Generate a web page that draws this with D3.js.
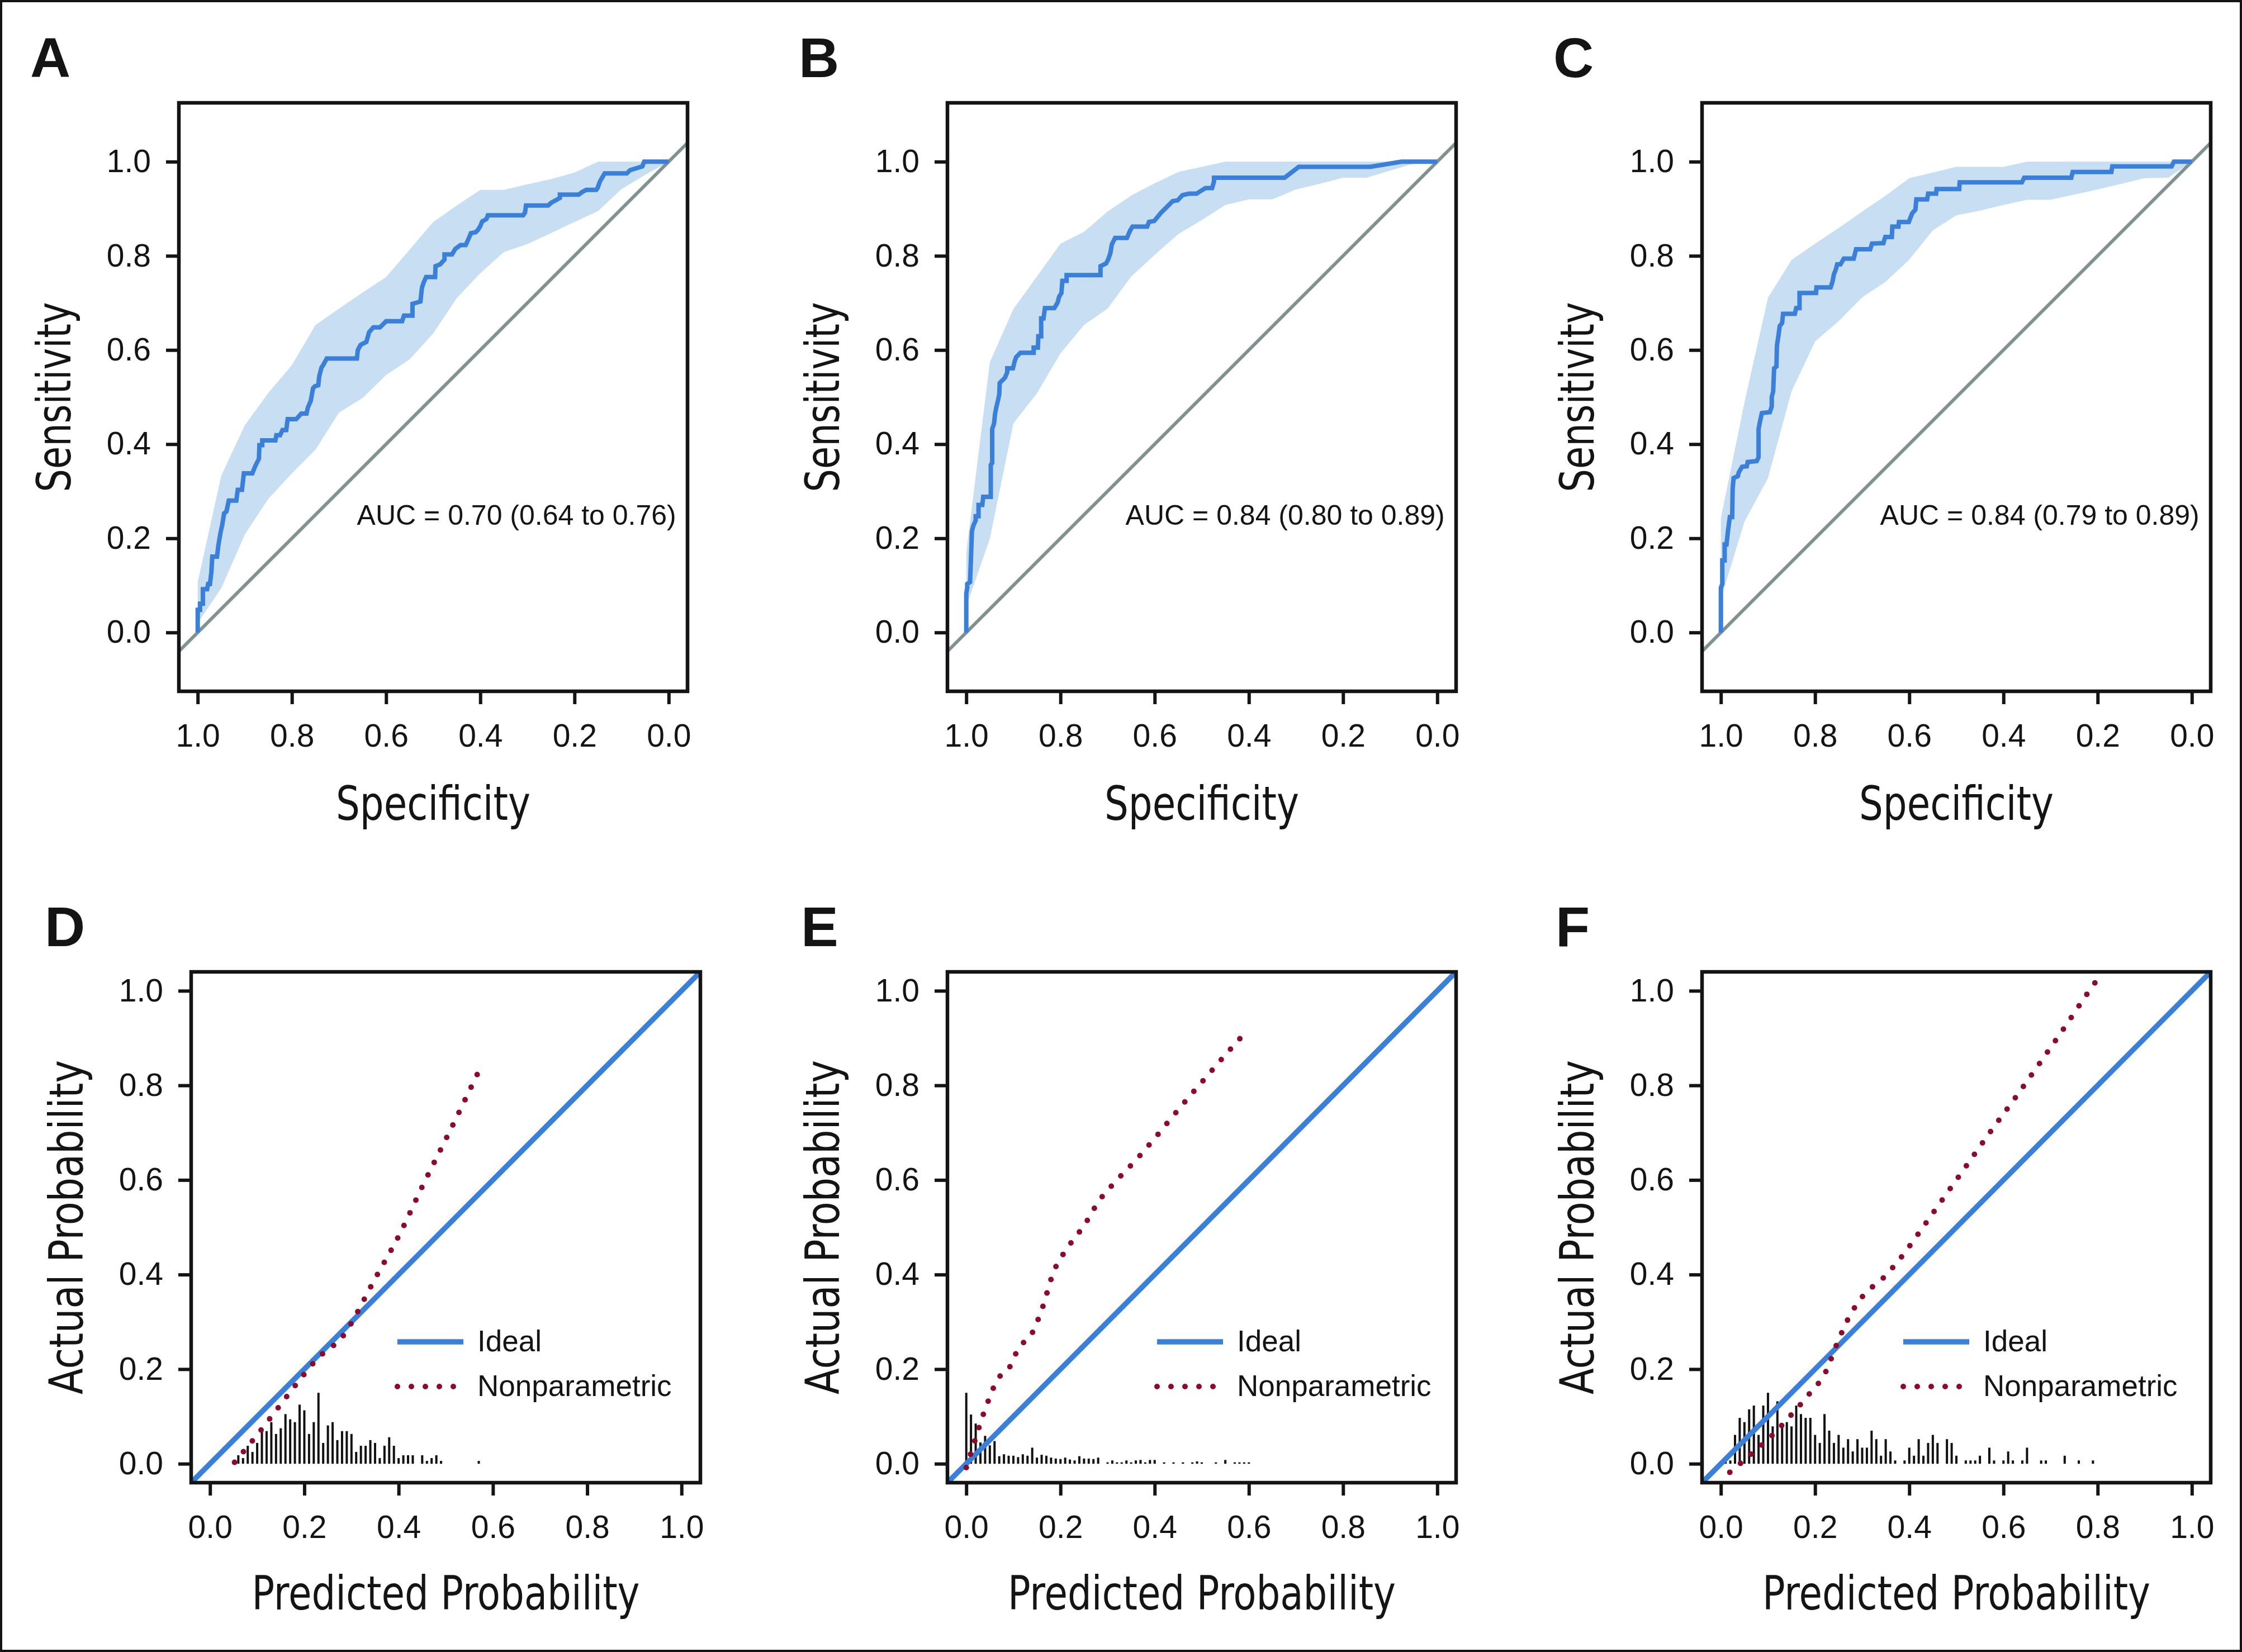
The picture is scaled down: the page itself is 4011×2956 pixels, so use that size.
<!DOCTYPE html>
<html><head><meta charset="utf-8">
<script src="https://cdn.jsdelivr.net/npm/d3@7"></script>
<style>html,body{margin:0;padding:0;background:#fff;} svg{display:block;}</style>
</head><body>
<svg id="chart" width="4011" height="2956"></svg>
<script>
// ---------------- DATA ----------------
const rocPanelLetters = ["A", "B", "C"];
const calPanelLetters = ["D", "E", "F"];
const specTicks = [1.0, 0.8, 0.6, 0.4, 0.2, 0.0];
const sensTicks = [0.0, 0.2, 0.4, 0.6, 0.8, 1.0];
const probTicks = [0.0, 0.2, 0.4, 0.6, 0.8, 1.0];
const aucLabels = ["AUC = 0.70 (0.64 to 0.76)", "AUC = 0.84 (0.80 to 0.89)", "AUC = 0.84 (0.79 to 0.89)"];
const legendLabels = ["Ideal", "Nonparametric"];
const rocTitles = ["Specificity", "Sensitivity"];
const calTitles = ["Predicted Probability", "Actual Probability"];

// ROC curves: [specificity, sensitivity]
const rocA = [[1.000,0],[1.000,0.048],[0.995,0.048],[0.995,0.061],[0.989,0.061],[0.989,0.092],[0.980,0.092],[0.978,0.103],[0.974,0.103],[0.971,0.128],[0.969,0.161],[0.959,0.161],[0.956,0.186],[0.951,0.215],[0.948,0.228],[0.944,0.253],[0.939,0.257],[0.934,0.280],[0.918,0.280],[0.915,0.303],[0.906,0.303],[0.902,0.338],[0.884,0.338],[0.878,0.353],[0.870,0.369],[0.869,0.398],[0.863,0.398],[0.863,0.408],[0.835,0.408],[0.833,0.419],[0.825,0.419],[0.820,0.430],[0.812,0.430],[0.809,0.453],[0.791,0.453],[0.780,0.465],[0.769,0.465],[0.766,0.478],[0.760,0.492],[0.758,0.503],[0.755,0.519],[0.751,0.523],[0.744,0.525],[0.742,0.544],[0.737,0.563],[0.733,0.569],[0.726,0.582],[0.662,0.582],[0.660,0.600],[0.654,0.611],[0.642,0.617],[0.636,0.638],[0.627,0.648],[0.613,0.648],[0.600,0.661],[0.566,0.661],[0.562,0.673],[0.544,0.673],[0.544,0.698],[0.527,0.703],[0.524,0.732],[0.520,0.744],[0.515,0.755],[0.496,0.755],[0.495,0.778],[0.485,0.782],[0.476,0.792],[0.476,0.803],[0.460,0.803],[0.453,0.815],[0.442,0.823],[0.431,0.823],[0.425,0.836],[0.420,0.848],[0.410,0.850],[0.405,0.855],[0.400,0.863],[0.396,0.873],[0.387,0.878],[0.384,0.886],[0.309,0.886],[0.305,0.892],[0.303,0.907],[0.256,0.907],[0.249,0.913],[0.238,0.919],[0.231,0.923],[0.231,0.930],[0.191,0.930],[0.183,0.936],[0.175,0.940],[0.154,0.940],[0.151,0.944],[0.146,0.958],[0.136,0.975],[0.089,0.975],[0.082,0.982],[0.056,0.990],[0.052,1.0],[0.000,1.0]];
const rocB = [[1.0,0],[1.0,0.083],[0.998,0.095],[0.998,0.103],[0.992,0.107],[0.990,0.159],[0.988,0.215],[0.985,0.227],[0.980,0.238],[0.980,0.247],[0.974,0.247],[0.974,0.271],[0.966,0.271],[0.964,0.288],[0.948,0.288],[0.948,0.356],[0.945,0.360],[0.945,0.432],[0.941,0.444],[0.939,0.464],[0.936,0.479],[0.932,0.496],[0.930,0.506],[0.929,0.530],[0.922,0.537],[0.918,0.541],[0.913,0.553],[0.913,0.561],[0.901,0.561],[0.897,0.577],[0.894,0.585],[0.885,0.594],[0.857,0.594],[0.857,0.605],[0.848,0.605],[0.847,0.629],[0.841,0.629],[0.841,0.667],[0.836,0.667],[0.833,0.689],[0.813,0.689],[0.806,0.701],[0.803,0.713],[0.798,0.721],[0.796,0.747],[0.787,0.747],[0.787,0.759],[0.715,0.759],[0.715,0.778],[0.703,0.784],[0.698,0.794],[0.694,0.806],[0.691,0.824],[0.684,0.838],[0.659,0.838],[0.652,0.854],[0.647,0.862],[0.616,0.862],[0.612,0.872],[0.601,0.874],[0.586,0.892],[0.562,0.916],[0.551,0.918],[0.541,0.929],[0.527,0.932],[0.511,0.932],[0.502,0.938],[0.492,0.944],[0.478,0.944],[0.474,0.958],[0.474,0.966],[0.324,0.966],[0.294,0.989],[0.142,0.989],[0.076,1.0],[0,1.0]];
const rocC = [[1.0,0],[1.0,0.095],[0.997,0.103],[0.997,0.153],[0.992,0.153],[0.992,0.187],[0.988,0.187],[0.985,0.215],[0.981,0.245],[0.976,0.245],[0.975,0.305],[0.973,0.328],[0.964,0.332],[0.962,0.340],[0.955,0.352],[0.945,0.353],[0.943,0.362],[0.924,0.364],[0.920,0.372],[0.920,0.432],[0.917,0.448],[0.913,0.466],[0.896,0.468],[0.892,0.480],[0.892,0.500],[0.889,0.512],[0.887,0.561],[0.882,0.565],[0.881,0.609],[0.878,0.629],[0.875,0.651],[0.870,0.657],[0.868,0.677],[0.843,0.677],[0.840,0.689],[0.833,0.689],[0.833,0.721],[0.798,0.721],[0.797,0.733],[0.767,0.733],[0.763,0.745],[0.760,0.761],[0.756,0.771],[0.753,0.782],[0.746,0.782],[0.739,0.794],[0.718,0.794],[0.713,0.814],[0.683,0.814],[0.679,0.826],[0.655,0.827],[0.651,0.840],[0.637,0.840],[0.636,0.862],[0.623,0.862],[0.622,0.872],[0.601,0.872],[0.594,0.890],[0.587,0.898],[0.585,0.920],[0.562,0.920],[0.560,0.932],[0.543,0.932],[0.542,0.942],[0.494,0.942],[0.493,0.956],[0.361,0.956],[0.356,0.966],[0.256,0.966],[0.253,0.978],[0.171,0.978],[0.169,0.990],[0.043,0.990],[0.038,1.0],[0,1.0]];

// Confidence bands of sensitivity at fixed specificities
const ciSpec = [1.00,0.95,0.90,0.85,0.80,0.75,0.70,0.65,0.60,0.55,0.50,0.45,0.40,0.35,0.30,0.25,0.20,0.15,0.10,0.05,0.00];
const ciUpperA = [0.107,0.333,0.440,0.509,0.568,0.653,0.688,0.722,0.755,0.813,0.872,0.907,0.940,0.940,0.952,0.963,0.977,1.0,1.0,1.0,1.0];
const ciLowerA = [0.020,0.094,0.208,0.284,0.338,0.388,0.467,0.498,0.547,0.580,0.635,0.710,0.763,0.808,0.825,0.848,0.872,0.895,0.942,0.972,1.0];
const ciUpperB = [0.171,0.574,0.687,0.756,0.826,0.851,0.894,0.928,0.954,0.978,0.989,1.0,1.0,1.0,1.0,1.0,1.0,1.0,1.0,1.0,1.0];
const ciLowerB = [0.055,0.199,0.444,0.508,0.593,0.653,0.688,0.756,0.802,0.846,0.876,0.908,0.920,0.920,0.941,0.953,0.966,0.966,0.981,0.996,1.0];
const ciUpperC = [0.243,0.488,0.711,0.791,0.826,0.859,0.894,0.928,0.965,0.977,0.989,0.989,0.989,1.0,1.0,1.0,1.0,1.0,1.0,1.0,1.0];
const ciLowerC = [0.071,0.235,0.328,0.512,0.618,0.661,0.712,0.745,0.792,0.854,0.886,0.896,0.908,0.919,0.919,0.930,0.941,0.953,0.965,0.966,1.0];

// Nonparametric calibration curves: [predicted, actual]
const npD = [[0.052,0.003],[0.057,0.009],[0.096,0.056],[0.132,0.102],[0.186,0.172],[0.224,0.218],[0.246,0.239],[0.268,0.255],[0.288,0.278],[0.303,0.303],[0.345,0.382],[0.402,0.485],[0.453,0.592],[0.506,0.698],[0.571,0.832]];
const npE = [[0.000,-0.008],[0.018,0.048],[0.036,0.104],[0.046,0.131],[0.057,0.159],[0.068,0.181],[0.087,0.196],[0.114,0.249],[0.135,0.268],[0.159,0.322],[0.186,0.407],[0.216,0.458],[0.251,0.505],[0.282,0.556],[0.320,0.600],[0.361,0.643],[0.400,0.688],[0.438,0.734],[0.476,0.779],[0.515,0.824],[0.554,0.869],[0.593,0.912]];
const npF = [[0.019,-0.018],[0.064,0.020],[0.109,0.060],[0.149,0.103],[0.188,0.148],[0.223,0.195],[0.245,0.250],[0.269,0.304],[0.301,0.354],[0.345,0.393],[0.384,0.438],[0.419,0.486],[0.470,0.558],[0.522,0.631],[0.573,0.703],[0.626,0.775],[0.677,0.847],[0.728,0.920],[0.778,0.994],[0.795,1.018]];

// Distribution of predicted risk (spike histogram): [predicted, spike height]
const spikesD = [[0.05,0.006],[0.06,0.018],[0.07,0.012],[0.08,0.038],[0.09,0.025],[0.10,0.044],[0.11,0.069],[0.12,0.069],[0.13,0.088],[0.14,0.063],[0.15,0.075],[0.16,0.105],[0.17,0.094],[0.18,0.088],[0.19,0.125],[0.20,0.113],[0.21,0.063],[0.22,0.088],[0.23,0.150],[0.24,0.044],[0.25,0.081],[0.26,0.088],[0.27,0.050],[0.28,0.069],[0.29,0.069],[0.30,0.063],[0.31,0.025],[0.32,0.038],[0.33,0.038],[0.34,0.050],[0.35,0.044],[0.36,0.012],[0.37,0.038],[0.38,0.056],[0.39,0.038],[0.40,0.012],[0.41,0.018],[0.42,0.018],[0.43,0.018],[0.45,0.018],[0.46,0.006],[0.47,0.012],[0.48,0.018],[0.49,0.006],[0.57,0.006]];
const spikesE = [[0.00,0.150],[0.01,0.104],[0.02,0.085],[0.03,0.045],[0.04,0.059],[0.05,0.039],[0.06,0.048],[0.07,0.016],[0.08,0.020],[0.09,0.017],[0.10,0.017],[0.11,0.014],[0.12,0.020],[0.13,0.017],[0.14,0.034],[0.15,0.013],[0.16,0.019],[0.17,0.017],[0.18,0.013],[0.19,0.011],[0.20,0.010],[0.21,0.013],[0.22,0.009],[0.23,0.007],[0.24,0.016],[0.25,0.011],[0.26,0.011],[0.27,0.010],[0.28,0.013],[0.30,0.003],[0.31,0.007],[0.32,0.003],[0.33,0.003],[0.34,0.007],[0.35,0.003],[0.36,0.007],[0.37,0.008],[0.38,0.003],[0.39,0.008],[0.40,0.008],[0.42,0.003],[0.44,0.003],[0.46,0.003],[0.48,0.003],[0.49,0.005],[0.50,0.003],[0.53,0.003],[0.55,0.008],[0.57,0.003],[0.58,0.003],[0.59,0.003],[0.60,0.003]];
const spikesF = [[0.01,0.007],[0.02,0.007],[0.03,0.061],[0.04,0.097],[0.05,0.088],[0.06,0.115],[0.07,0.123],[0.08,0.061],[0.09,0.123],[0.10,0.150],[0.11,0.079],[0.12,0.132],[0.13,0.079],[0.14,0.088],[0.15,0.079],[0.16,0.123],[0.17,0.105],[0.18,0.097],[0.19,0.097],[0.20,0.061],[0.21,0.044],[0.22,0.105],[0.23,0.070],[0.24,0.044],[0.25,0.061],[0.26,0.034],[0.27,0.052],[0.28,0.026],[0.29,0.052],[0.30,0.034],[0.31,0.034],[0.32,0.070],[0.33,0.052],[0.34,0.017],[0.35,0.052],[0.36,0.026],[0.37,0.007],[0.39,0.007],[0.40,0.034],[0.41,0.017],[0.42,0.052],[0.43,0.017],[0.44,0.044],[0.45,0.061],[0.46,0.044],[0.48,0.052],[0.49,0.044],[0.50,0.017],[0.52,0.007],[0.53,0.007],[0.54,0.007],[0.55,0.017],[0.57,0.034],[0.58,0.007],[0.60,0.007],[0.61,0.026],[0.62,0.007],[0.64,0.007],[0.65,0.034],[0.68,0.007],[0.69,0.007],[0.73,0.017],[0.76,0.007],[0.79,0.007]];

// ---------------- LAYOUT / STYLE ----------------
const W = 4011, H = 2956;
const rocBoxes = [{x0:320,x1:1230},{x0:1695,x1:2605},{x0:3045,x1:3955}];
const rocY0 = 184, rocY1 = 1237;
const calBoxes = [{x0:342,x1:1253,leg:369},{x0:1695,x1:2605,leg:375},{x0:3045,x1:3955,leg:360}];
const calY0 = 1739, calY1 = 2653;
const COL = {blue:"#3a80d8", band:"#c8def3", gray:"#7f9291", red:"#8c0a2b", ink:"#141414"};
const TICK_FONT = "'Liberation Sans', Arial, Helvetica, sans-serif";
const TITLE_FONT = "'Liberation Sans Narrow','DejaVu Sans Condensed','Arial Narrow',sans-serif";
const fmt = d3.format(".1f");

const rocCurves = [rocA, rocB, rocC];
const ciUpper = [ciUpperA, ciUpperB, ciUpperC];
const ciLower = [ciLowerA, ciLowerB, ciLowerC];
const npCurves = [npD, npE, npF];
const spikes = [spikesD, spikesE, spikesF];

const svg = d3.select("#chart");
svg.append("rect").attr("width", W).attr("height", H).attr("fill", "#fff");
svg.append("rect").attr("x", 2).attr("y", 2).attr("width", W - 4).attr("height", H - 4)
  .attr("fill", "none").attr("stroke", COL.ink).attr("stroke-width", 4);
const defs = svg.append("defs");

function styleAxis(sel) {
  sel.select(".domain").remove();
  sel.selectAll(".tick line").attr("stroke", COL.ink).attr("stroke-width", 6);
  sel.selectAll(".tick text").attr("fill", COL.ink).attr("font-size", 57).attr("font-family", TICK_FONT);
  sel.attr("font-size", null).attr("font-family", null);
}

function drawBox(g, x0, x1, y0, y1) {
  g.append("rect").attr("x", x0).attr("y", y0).attr("width", x1 - x0).attr("height", y1 - y0)
    .attr("fill", "none").attr("stroke", COL.ink).attr("stroke-width", 6.5);
}

function titles(g, x0, x1, y0, y1, xTitle, yTitle, xBase, xLen, yLen) {
  g.append("text").attr("x", (x0 + x1) / 2).attr("y", xBase).attr("text-anchor", "middle")
    .attr("font-family", TITLE_FONT).attr("font-size", 84).attr("fill", COL.ink)
    .attr("textLength", xLen).attr("lengthAdjust", "spacingAndGlyphs").text(xTitle);
  g.append("text").attr("transform", `translate(${x0 - 194},${(y0 + y1) / 2}) rotate(-90)`)
    .attr("text-anchor", "middle").attr("font-family", TITLE_FONT).attr("font-size", 84).attr("fill", COL.ink)
    .attr("textLength", yLen).attr("lengthAdjust", "spacingAndGlyphs").text(yTitle);
}

function letter(g, x, y, t) {
  g.append("text").attr("x", x).attr("y", y).attr("font-family", TICK_FONT).attr("font-weight", "bold")
    .attr("font-size", 100).attr("fill", COL.ink).text(t);
}

// ---------------- ROC PANELS ----------------
rocBoxes.forEach((L, i) => {
  const x = d3.scaleLinear().domain([1.04, -0.04]).range([L.x0, L.x1]);
  const y = d3.scaleLinear().domain([-0.125, 1.125]).range([rocY1, rocY0]);
  const g = svg.append("g");
  const cid = "clipRoc" + i;
  defs.append("clipPath").attr("id", cid).append("rect")
    .attr("x", L.x0).attr("y", rocY0).attr("width", L.x1 - L.x0).attr("height", rocY1 - rocY0);
  const plot = g.append("g").attr("clip-path", `url(#${cid})`);

  const band = ciSpec.map((s, k) => ({s: s, lo: ciLower[i][k], hi: ciUpper[i][k]}));
  plot.append("path").datum(band)
    .attr("d", d3.area().x(d => x(d.s)).y0(d => y(d.lo)).y1(d => y(d.hi)))
    .attr("fill", COL.band).attr("stroke", "none");

  const diag = [[1.04, -0.04], [-0.04, 1.04]];
  plot.append("path").datum(diag)
    .attr("d", d3.line().x(d => x(d[0])).y(d => y(d[1])))
    .attr("stroke", COL.gray).attr("stroke-width", 6).attr("fill", "none");

  plot.append("path").datum(rocCurves[i])
    .attr("d", d3.line().x(d => x(d[0])).y(d => y(d[1])))
    .attr("stroke", COL.blue).attr("stroke-width", 8).attr("fill", "none")
    .attr("stroke-linejoin", "miter");

  plot.append("text").attr("x", x(-0.016)).attr("y", y(0.229)).attr("text-anchor", "end")
    .attr("font-family", TICK_FONT).attr("font-size", 50).attr("fill", COL.ink).text(aucLabels[i]);

  g.append("g").attr("transform", `translate(0,${rocY1})`)
    .call(d3.axisBottom(x).tickValues(specTicks).tickFormat(fmt).tickSize(23).tickPadding(36))
    .call(styleAxis);
  g.append("g").attr("transform", `translate(${L.x0},0)`)
    .call(d3.axisLeft(y).tickValues(sensTicks).tickFormat(fmt).tickSize(23).tickPadding(27))
    .call(styleAxis);

  drawBox(g, L.x0, L.x1, rocY0, rocY1);
  titles(g, L.x0, L.x1, rocY0, rocY1, rocTitles[0], rocTitles[1], 1467, 348, 340);
  letter(g, L.x0 - 266, 138, rocPanelLetters[i]);
});

// ---------------- CALIBRATION PANELS ----------------
calBoxes.forEach((L, i) => {
  const x = d3.scaleLinear().domain([-0.04, 1.04]).range([L.x0, L.x1]);
  const y = d3.scaleLinear().domain([-0.04, 1.04]).range([calY1, calY0]);
  const g = svg.append("g");
  const cid = "clipCal" + i;
  defs.append("clipPath").attr("id", cid).append("rect")
    .attr("x", L.x0).attr("y", calY0).attr("width", L.x1 - L.x0).attr("height", calY1 - calY0);
  const plot = g.append("g").attr("clip-path", `url(#${cid})`);

  plot.selectAll("line.spike").data(spikes[i]).join("line").attr("class", "spike")
    .attr("x1", d => x(d[0])).attr("x2", d => x(d[0]))
    .attr("y1", y(0)).attr("y2", d => y(d[1]))
    .attr("stroke", "#111").attr("stroke-width", 4);

  const ideal = [[-0.04, -0.04], [1.04, 1.04]];
  plot.append("path").datum(ideal)
    .attr("d", d3.line().x(d => x(d[0])).y(d => y(d[1])))
    .attr("stroke", COL.blue).attr("stroke-width", 9.5).attr("fill", "none");

  plot.append("path").datum(npCurves[i])
    .attr("d", d3.line().curve(d3.curveMonotoneX).x(d => x(d[0])).y(d => y(d[1])))
    .attr("stroke", COL.red).attr("stroke-width", 10).attr("fill", "none")
    .attr("stroke-linecap", "round").attr("stroke-dasharray", "0 25");

  // legend
  const lx = L.x0 + L.leg, ly1 = calY0 + 662, ly2 = calY0 + 742;
  g.append("line").attr("x1", lx).attr("x2", lx + 118).attr("y1", ly1).attr("y2", ly1)
    .attr("stroke", COL.blue).attr("stroke-width", 9.5);
  g.append("line").attr("x1", lx).attr("x2", lx + 118).attr("y1", ly2).attr("y2", ly2)
    .attr("stroke", COL.red).attr("stroke-width", 10).attr("stroke-linecap", "round")
    .attr("stroke-dasharray", "0 25");
  [ly1, ly2].forEach((yy, k) => {
    g.append("text").attr("x", lx + 143).attr("y", yy + 17).attr("font-family", TICK_FONT)
      .attr("font-size", 53).attr("fill", COL.ink).text(legendLabels[k]);
  });

  g.append("g").attr("transform", `translate(0,${calY1})`)
    .call(d3.axisBottom(x).tickValues(probTicks).tickFormat(fmt).tickSize(23).tickPadding(36))
    .call(styleAxis);
  g.append("g").attr("transform", `translate(${L.x0},0)`)
    .call(d3.axisLeft(y).tickValues(probTicks).tickFormat(fmt).tickSize(23).tickPadding(27))
    .call(styleAxis);

  drawBox(g, L.x0, L.x1, calY0, calY1);
  titles(g, L.x0, L.x1, calY0, calY1, calTitles[0], calTitles[1], 2880, 694, 598);
  letter(g, L.x0 - 262, 1693, calPanelLetters[i]);
});
</script>
</body></html>
